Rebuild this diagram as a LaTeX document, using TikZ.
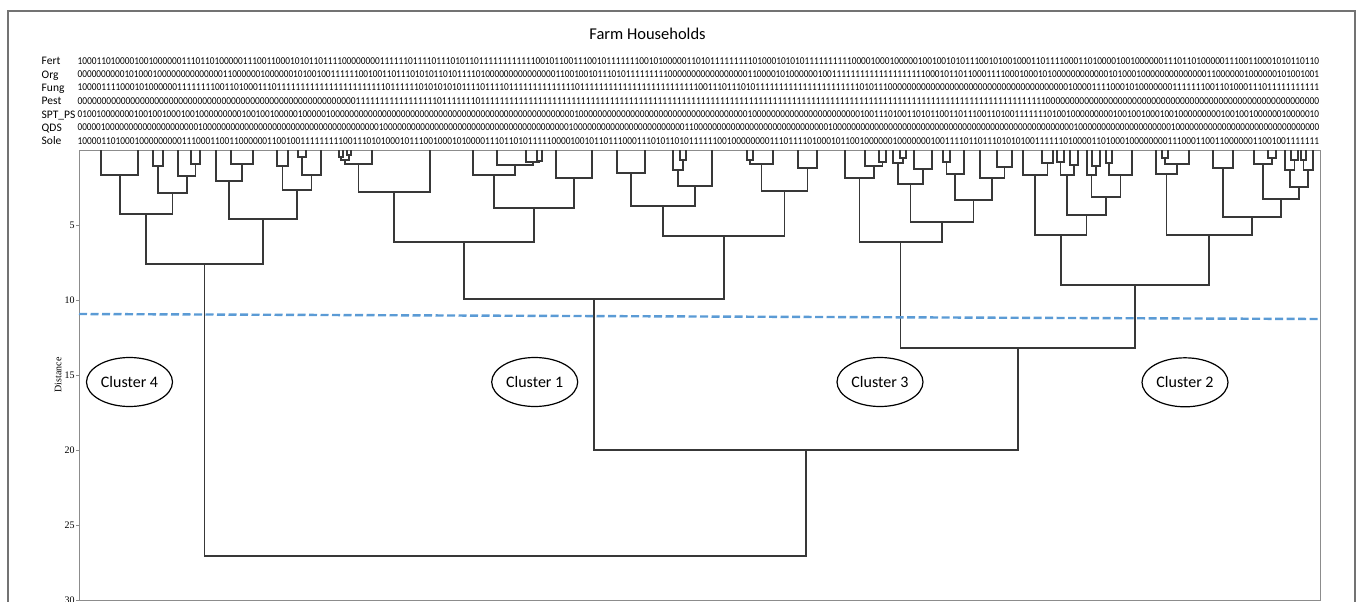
\documentclass[tikz,border=0pt]{standalone}
\usepackage{fontspec}
\setmainfont{Carlito}
\newfontfamily\axisfont{Liberation Serif}
\usepackage{graphicx}
\usetikzlibrary{shapes.geometric}
\tikzset{>=latex}
\definecolor{cutblue}{RGB}{91,155,213}
\tikzset{
  den/.style={line width=1.3pt, draw=black!78},
  plotframe/.style={line width=0.9pt, draw=black!45},
  cutline/.style={line width=2.4pt, draw=cutblue, dash pattern=on 8pt off 3.5pt},
  cluster/.style={ellipse, draw, line width=1.2pt, inner sep=0pt, minimum width=86pt, minimum height=49pt, font=\fontsize{16}{19}\selectfont},
  rowlab/.style={anchor=base west, inner sep=0pt, font=\fontsize{11.5}{13}\selectfont},
  bits/.style={anchor=west, inner sep=0pt, font=\fontsize{10.5}{12}\selectfont},
  tick/.style={font=\axisfont\fontsize{10}{12}\selectfont, inner sep=1pt}
}

\begin{document}
\begin{tikzpicture}[x=1pt, y=-1pt]
    \useasboundingbox(0,0)rectangle(1360,602);
    \clip(0,0)rectangle(1360,602);
    \draw[line width=1.8pt, draw=black!55](8,11)rectangle(1355,640);
    \node(title)at(647.5,33.5){\fontsize{16.5}{19}\selectfont Farm Households};
    % binary rows
    \foreach \lab/\code [count=\i from 0] in {
        Fert/10001101000010010000001110110100000111001100010101101111000000001111110111101110101101111111111110010110011100101111111001010000011010111111111010001010101111111111000010001000001001001010111001010010001101111000110100001001000000111011010000011100110001010110110,
        Org/0000000000101000100000000000000110000001000000101001001111110010011011101010110101111010000000000000001100100101110101111111110000000000000000011000010100000010011111111111111111111000101101100011110001000101000000000000101000100000000000000110000001000000101001001,
        Fung/1000011110001010000001111111100110100011101111111111111111111111101111110101010101111011110111111111111110111111111111111111111111100111011101011111111111111111111110101110000000000000000000000000000000000000010000111100010100000001111111001101000111011111111111,
        Pest/0000000000000000000000000000000000000000000000000000000000111111111111111110111111101111111111111111111111111111111111111111111111111111111111111111111111111111111111111111111111111111111111111111111111000000000000000000000000000000000000000000000000000000000,
        SPT\_PS/0100100000001001001000100100000000010010010000010000010000000000000000000000000000000000000000000000000000100000000000000000000000000000000000010000000000000000000000010011101001101011001101110011010011111110100100000000010010010001001000000000100100100000010000010,
        QDS/0000010000000000000000000010000000000000000000000000000000000000010000000000000000000000000000000000000000100000000000000000000000011000000000000000000000000000001000000000000000000000000000000000000000000000000000010000000000000000000010000000000000000000000000000000,
        Sole/1000011010001000000000111000110011000000110010011111111100111010100010111001000101000011101101011111000010010110111000111010110101111110010000000011101111010001011001000000100000001001111011011101010100111111010000110100010000000011100011001100000011001001111111}{
        \node[rowlab](lab\i)at(41.5,{65+13.3*\i}){\lab};
        \node[bits](row\i)at(77.5,{61+13.3*\i}){\resizebox{1241pt}{\height}{\code}};
    }
    % axis
    \draw[plotframe](79,150)rectangle(1320,600);
    \foreach \d in {5,10,...,30}\draw[plotframe](79,{150+15*\d})--++(-3,0)node[tick, left](t\d){\d};
    \node[rotate=90, font=\axisfont\fontsize{10}{12}\selectfont](ylab)at(58,375){Distance};
    % dendrogram links: left x / left y / right x / right y / merge y
    \foreach \xa/\ya/\xb/\yb/\ym in {
        101/150/138/150/175, 153/150/163/150/166, 191/150/200/150/164, 178/150/195.5/164/176,
        158/166/187/176/193, 120/175/172.5/193/214, 231/150/253/150/164, 216/150/242/164/181,
        277/150/288/150/166, 298/150/306/150/157, 302/157/321/150/175, 282.5/166/311.5/175/190,
        229/181/297/190/219, 146/214/263/219/264,
        339/150/343/150/157, 347/150/351/150/155, 341/157/349/155/160, 345/160/372/150/164,
        358.5/164/430/150/192, 537/150/542/150/161, 526/150/539.5/161/162, 497/150/533/162/165,
        473/150/515/165/175, 556/150/592/150/178, 494/175/574/178/208, 394/192/534/208/242,
        617/150/645/150/173, 680/150/686/150/160, 673/150/683/160/170, 678/170/712/150/186,
        631/173/695/186/206, 747/150/753/150/160, 750/160/773/150/164, 798/150/817/150/168,
        761.5/164/807.5/168/191, 663/206/784.5/191/236, 464/242/724/236/299,
        879/150/886/150/162, 865/150/882.5/162/166, 845/150/874/166/178, 900/150/906/150/158,
        893/150/903/158/163, 914/150/932/150/169, 898/163/923/169/184, 943/150/950/150/162,
        946.5/162/964/150/174, 997/150/1012/150/167, 980/150/1004.5/167/178, 955/174/992/178/200,
        910.5/184/973.5/200/222, 859.5/178/942/222/242,
        1042/150/1053/150/163, 1023/150/1047.5/163/175, 1057/150/1064/150/162, 1070/150/1078/150/165,
        1060.5/162/1074/165/175, 1092/150/1100/150/166, 1087/150/1096/166/175, 1106/150/1112/150/163,
        1109/163/1132/150/175, 1091.5/175/1120.5/175/197, 1067/175/1106/197/215, 1035/175/1086.5/215/235,
        1162/150/1168/150/158, 1165/158/1189/150/164, 1156/150/1177/164/174, 1268/150/1276/150/158,
        1254/150/1272/158/164, 1291/150/1298/150/160, 1285/150/1294.5/160/170, 1301/150/1306/150/160,
        1303.5/160/1313/150/170, 1290/170/1308/170/187, 1263/164/1299/187/199, 1213/150/1233/150/168,
        1223/168/1281/199/217, 1166.5/174/1252/217/235, 1061/235/1209/235/285,
        900.75/242/1135/285/348, 594/299/1018/348/450, 204.5/264/806/450/556}
        \draw[den](\xa,\ya)|-(\xb,\ym)--(\xb,\yb);
    \draw[cutline](79,314)--(1318,319);
    \node[cluster](c4)at(129.5,382){Cluster 4};
    \node[cluster](c1)at(534.7,382){Cluster 1};
    \node[cluster](c3)at(880,382){Cluster 3};
    \node[cluster](c2)at(1185,382.3){Cluster 2};
\end{tikzpicture}
\end{document}
